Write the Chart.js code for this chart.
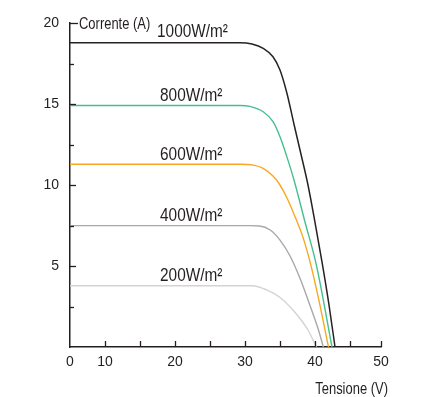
<!DOCTYPE html>
<html>
<head>
<meta charset="utf-8">
<script src="https://cdn.jsdelivr.net/npm/chart.js@4/dist/chart.umd.min.js"></script>
<style>
  html, body { margin: 0; padding: 0; background: #ffffff; }
  #c { display: block; }
</style>
</head>
<body>
<canvas id="c" width="433" height="397"></canvas>
<script>
// ---- data (voltage V, current A) ----
const seriesNames = ['1000W/m²', '800W/m²', '600W/m²', '400W/m²', '200W/m²'];

const v1000 = [5, 29.3, 31.0, 32.6, 34.0, 35.0, 36.0, 37.0, 38.0, 39.0, 40.0, 41.0, 42.0, 42.86];
const i1000 = [18.78, 18.78, 18.70, 18.44, 17.92, 17.10, 15.65, 13.75, 11.90, 10.00, 7.70, 5.25, 2.60, 0];

const v800 = [5, 29.3, 30.7, 32.6, 34.0, 35.0, 36.0, 37.0, 38.6, 40.2, 42.43];
const i800 = [14.91, 14.91, 14.85, 14.52, 13.91, 12.98, 11.72, 10.31, 7.67, 5.06, 0];

const v600 = [5, 29.3, 31.2, 32.6, 34.0, 35.0, 36.0, 37.0, 38.3, 39.5, 40.5, 41.93];
const i600 = [11.28, 11.28, 11.23, 11.03, 10.55, 10.00, 9.20, 8.20, 6.75, 4.90, 3.00, 0];

const v400 = [5, 30.7, 32.1, 33.6, 35.0, 36.4, 37.9, 39.3, 40.5, 41.19];
const i400 = [7.49, 7.49, 7.47, 7.22, 6.60, 5.65, 4.20, 2.55, 1.05, 0];

const v200 = [5, 31.1, 33.1, 35.0, 37.1, 39.0, 40.2];
const i200 = [3.78, 3.78, 3.52, 3.06, 2.16, 1.05, 0];

// axis ticks
const xTickValues = [5, 10, 15, 20, 25, 30, 35, 40, 45, 49.43];
const xTickLabels = ['0', '10', '', '20', '', '30', '', '40', '', '50'];
const yTickValues = [0, 2.5, 5, 7.5, 10, 12.5, 15, 17.5, 20];
const yTickLabels = ['', '', '5', '', '10', '', '15', '', '20'];

const xTitle = 'Tensione (V)';
const yTitle = 'Corrente (A)';

// ---- styling ----
const colors = ['#262223', '#45bf8f', '#f7a823', '#a8a8a8', '#d3d3d3'];
const widths = [1.5, 1.4, 1.4, 1.4, 1.4];
const AXIS = '#231f20';
const TXT = '#231f20';
const LABEL_FONT = "19px 'Liberation Sans', Arial, sans-serif";
const TITLE_FONT = "16px 'Liberation Sans', Arial, sans-serif";
const NARROW = 0.81;
const labelV = [17.43, 17.86, 17.86, 17.86, 17.86];

function pts(vs, is) { return vs.map((v, k) => ({ x: v, y: is[k] })); }
const allV = [v1000, v800, v600, v400, v200];
const allI = [i1000, i800, i600, i400, i200];

const datasets = seriesNames.map((n, k) => ({
  label: n,
  data: pts(allV[k], allI[k]),
  borderColor: colors[k],
  borderWidth: widths[k],
  pointRadius: 0,
  fill: false,
  cubicInterpolationMode: 'monotone'
}));

function narrowText(ctx, text, x, y, align) {
  ctx.save();
  ctx.translate(x, y);
  ctx.scale(NARROW, 1);
  ctx.textAlign = align;
  ctx.fillText(text, 0, 0);
  ctx.restore();
}

const decor = {
  id: 'decor',
  afterDraw(chart) {
    const ctx = chart.ctx;
    const xs = chart.scales.x, ys = chart.scales.y;
    const a = chart.chartArea;
    ctx.save();
    ctx.strokeStyle = AXIS;
    ctx.lineWidth = 1.3;
    // y ticks pointing inward
    yTickValues.forEach((v) => {
      if (v === 0) return;
      const y = Math.round(ys.getPixelForValue(v)) + 0.5;
      const len = v === 20 ? 8 : (v % 5 === 0 ? 6 : 4);
      ctx.beginPath();
      ctx.moveTo(a.left, y);
      ctx.lineTo(a.left + len, y);
      ctx.stroke();
    });
    // x ticks pointing up
    xTickValues.forEach((v) => {
      if (v === 5) return;
      const x = Math.round(xs.getPixelForValue(v)) + 0.5;
      ctx.beginPath();
      ctx.moveTo(x, a.bottom);
      ctx.lineTo(x, a.bottom - 6);
      ctx.stroke();
    });
    // series labels
    ctx.fillStyle = TXT;
    ctx.font = LABEL_FONT;
    ctx.textBaseline = 'alphabetic';
    seriesNames.forEach((n, k) => {
      const x = xs.getPixelForValue(labelV[k]);
      const y = ys.getPixelForValue(allI[k][0]) - (k === 0 ? 6 : 4.5);
      narrowText(ctx, n, x, y, 'left');
    });
    // axis titles
    ctx.font = TITLE_FONT;
    narrowText(ctx, yTitle, a.left + 9, a.top + 5.5, 'left');
    narrowText(ctx, xTitle, a.right + 7, a.bottom + 47, 'right');
    ctx.restore();
  }
};

new Chart(document.getElementById('c'), {
  type: 'line',
  data: { datasets },
  options: {
    responsive: false,
    animation: false,
    devicePixelRatio: 1,
    layout: { padding: { top: 23, right: 52, bottom: 0, left: 0 } },
    plugins: { legend: { display: false }, tooltip: { enabled: false } },
    scales: {
      x: {
        type: 'linear',
        min: 5,
        max: 49.43,
        afterBuildTicks(s) { s.ticks = xTickValues.map(v => ({ value: v })); },
        afterFit(s) { s.height = 50; },
        grid: { display: true, drawOnChartArea: false, drawTicks: false },
        border: { display: true, color: AXIS, width: 1.5 },
        ticks: {
          autoSkip: false, maxRotation: 0, padding: 7,
          color: TXT, font: { family: "'Liberation Sans', Arial, sans-serif", size: 14 },
          callback(val, idx) { return xTickLabels[idx]; }
        }
      },
      y: {
        type: 'linear',
        min: 0,
        max: 20,
        afterBuildTicks(s) { s.ticks = yTickValues.map(v => ({ value: v })); },
        afterFit(s) { s.width = 70; },
        grid: { display: true, drawOnChartArea: false, drawTicks: false },
        border: { display: true, color: AXIS, width: 1.5 },
        ticks: {
          autoSkip: false, padding: 11,
          color: TXT, font: { family: "'Liberation Sans', Arial, sans-serif", size: 14 },
          callback(val, idx) { return yTickLabels[idx]; }
        }
      }
    }
  },
  plugins: [decor]
});
</script>
</body>
</html>
